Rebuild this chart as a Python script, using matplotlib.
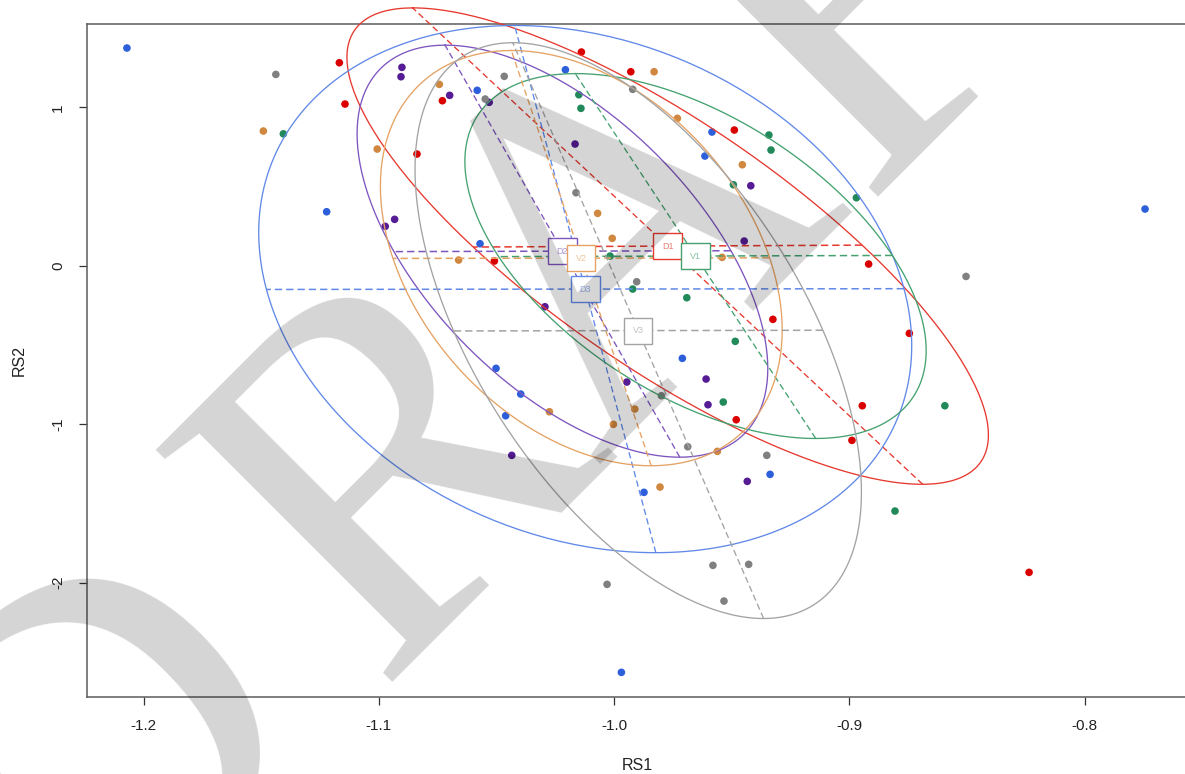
import numpy as np
import matplotlib
matplotlib.use("Agg")
import matplotlib.pyplot as plt
import matplotlib.colors as mcolors

# ---------------- data (RS1, RS2 scores per group) ----------------
group_names = ["D1", "D2", "D3", "V1", "V2", "V3"]

d1_x = [-1.1168, -1.1144, -1.0730, -1.0838, -1.0509, -1.0139, -0.9929, -0.9489,
        -0.8918, -0.9325, -0.8745, -0.9481, -0.8945, -0.8989, -0.8236]
d1_y = [1.2816, 1.0208, 1.0417, 0.7052, 0.0297, 1.3491, 1.2247, 0.8567,
        0.0107, -0.3384, -0.4268, -0.9722, -0.8838, -1.1023, -1.9356]

d2_x = [-1.0902, -1.0906, -1.0699, -1.0531, -1.0166, -1.0933, -1.0973, -1.0294,
        -0.9419, -0.9447, -0.9946, -1.0435, -0.9609, -0.9601, -0.9434]
d2_y = [1.2525, 1.1932, 1.0757, 1.0316, 0.7683, 0.2929, 0.2487, -0.2588,
        0.5050, 0.1559, -0.7342, -1.1970, -0.7153, -0.8775, -1.3611]

d3_x = [-1.2071, -1.1222, -1.0582, -1.0207, -1.0570, -0.9584, -0.9614, -0.7743,
        -1.0502, -1.0397, -1.0461, -0.9873, -0.9969, -0.9710, -0.9337]
d3_y = [1.3744, 0.3409, 1.1073, 1.2374, 0.1389, 0.8441, 0.6925, 0.3580,
        -0.6477, -0.8100, -0.9470, -1.4305, -2.5669, -0.5846, -1.3169]

v1_x = [-1.1406, -1.0150, -1.0141, -1.0017, -0.9921, -0.9342, -0.9333, -0.9493,
        -0.8970, -0.9691, -0.9485, -0.9536, -0.8594, -0.8806, -0.9924]
v1_y = [0.8327, 1.0795, 0.9937, 0.0612, -0.1471, 0.8251, 0.7304, 0.5114,
        0.4293, -0.2020, -0.4773, -0.8605, -0.8838, -1.5486, -0.4249]

v2_x = [-1.1491, -1.0743, -1.1007, -1.0070, -1.0008, -1.0661, -0.9830, -0.9731,
        -0.9455, -0.9541, -1.0275, -0.9912, -1.0003, -0.9561, -0.9805]
v2_y = [0.8504, 1.1452, 0.7367, 0.3308, 0.1730, 0.0360, 1.2247, 0.9305,
        0.6376, 0.0530, -0.9217, -0.9047, -1.0013, -1.1717, -1.3971]

v3_x = [-1.1438, -1.0548, -1.0467, -0.9921, -1.0162, -0.9904, -0.8504, -0.9799,
        -0.9687, -0.9351, -1.0030, -0.9580, -0.9428, -0.9533, -1.0111]
v3_y = [1.2077, 1.0524, 1.1957, 1.1136, 0.4609, -0.1010, -0.0675, -0.8207,
        -1.1427, -1.1970, -2.0114, -1.8914, -1.8851, -2.1168, 0.0612]

xticks = [-1.2, -1.1, -1.0, -0.9, -0.8]
xtick_labels = ["-1.2", "-1.1", "-1.0", "-0.9", "-0.8"]
yticks = [-2, -1, 0, 1]
ytick_labels = ["-2", "-1", "0", "1"]
x_label = "RS1"
y_label = "RS2"
watermark_letters = ["D", "R", "A", "F"]

# ---------------- style ----------------
point_colors = ["#DA0000", "#561C95", "#2D5FDB", "#22895A", "#D0873F", "#808080"]
line_colors = ["#E6392F", "#7E55BF", "#6189E8", "#45A270", "#E5A263", "#A3A3A3"]

def lighten(c, f):
    r, g, b = mcolors.to_rgb(c)
    return (r + (1 - r) * f, g + (1 - g) * f, b + (1 - b) * f)

series = [(d1_x, d1_y), (d2_x, d2_y), (d3_x, d3_y),
          (v1_x, v1_y), (v2_x, v2_y), (v3_x, v3_y)]

W, H = 1185, 774
fig = plt.figure(figsize=(W / 100, H / 100), dpi=100)
fig.patch.set_facecolor("white")

left_px, right_px, top_px, bottom_px = 86.7, 1187.0, 23.7, 697.4
ax = fig.add_axes([left_px / W, 1 - bottom_px / H,
                   (right_px - left_px) / W, (bottom_px - top_px) / H])
ax.set_xlim(-1.2242, -0.75647)
ax.set_ylim(-2.725, 1.528)
ax.set_facecolor("white")

# points
for (xs, ys), pc in zip(series, point_colors):
    ax.scatter(xs, ys, s=30, color=pc, edgecolors="none", zorder=2, clip_on=False)

# ellipses (1.5 sd, principal axes)
t = np.linspace(0, 2 * np.pi, 301)
centers = []
for (xs, ys), lc in zip(series, line_colors):
    x = np.asarray(xs); y = np.asarray(ys)
    mx, my = x.mean(), y.mean()
    cov = np.cov(np.vstack([x, y]), bias=True)
    vals, vecs = np.linalg.eigh(cov)
    l2, l1 = vals
    v2, v1 = vecs[:, 0], vecs[:, 1]
    a = 1.5 * np.sqrt(l1); b = 1.5 * np.sqrt(l2)
    ex = mx + a * np.cos(t) * v1[0] + b * np.sin(t) * v2[0]
    ey = my + a * np.cos(t) * v1[1] + b * np.sin(t) * v2[1]
    ax.plot(ex, ey, color=lc, lw=0.95, zorder=3, clip_on=False)
    dash = (0, (4.8, 2.6))
    ax.plot([mx - a * v1[0], mx + a * v1[0]], [my - a * v1[1], my + a * v1[1]],
            color=lc, lw=0.95, ls=dash, zorder=3, clip_on=False)
    ax.plot([mx - b * v2[0], mx + b * v2[0]], [my - b * v2[1], my + b * v2[1]],
            color=lc, lw=1.1, ls=dash, zorder=3, clip_on=False)
    centers.append((mx, my))

# labels in boxes
for name, (mx, my), lc in zip(group_names, centers, line_colors):
    ax.text(mx, my, name, ha="center", va="center", fontsize=6.5,
            family="Liberation Sans", color=lighten(lc, 0.35), zorder=5,
            bbox=dict(boxstyle="square,pad=0.95", fc="white", ec=lc, lw=1.0))

# axes styling
for side in ["left", "bottom", "top"]:
    ax.spines[side].set_color("#5c5c5c")
    ax.spines[side].set_linewidth(1.1)
ax.spines["right"].set_visible(False)
ax.set_xticks(xticks)
ax.set_xticklabels(xtick_labels)
ax.set_yticks(yticks)
ax.set_yticklabels(ytick_labels)
ax.tick_params(axis="both", direction="out", length=5.5, width=0.9,
               color="#333333", labelsize=11, labelcolor="#222222", pad=10)
for lab in ax.get_yticklabels():
    lab.set_rotation(90)
    lab.set_va("center")
    lab.set_ha("right")
for lab in ax.get_xticklabels() + ax.get_yticklabels():
    lab.set_family("Liberation Sans")

ax.set_xlabel(x_label, fontsize=11.5, family="Liberation Sans", color="#222222")
ax.set_ylabel(y_label, fontsize=11.5, family="Liberation Sans", color="#222222")
ax.xaxis.set_label_coords(0.5, -(765 - bottom_px) / (bottom_px - top_px))
ax.xaxis.label.set_va("center")
ax.yaxis.set_label_coords((19 - left_px) / (right_px - left_px), 0.5)
ax.yaxis.label.set_va("center")

# watermark letters (semi-transparent overlay; the rest of the word lies off the canvas)
wm_pos = [(72.5, 987.5), (375.9, 684.1), (595.8, 464.2), (861.0, 199.0)]
for letter, (px, py) in zip(watermark_letters, wm_pos):
    fig.text(px / W, 1 - py / H, letter, rotation=45, rotation_mode="anchor",
             ha="left", va="baseline", family="Liberation Serif", fontsize=364,
             color="black", alpha=0.17, zorder=10)

fig.savefig("out.png", dpi=100, facecolor="white")
